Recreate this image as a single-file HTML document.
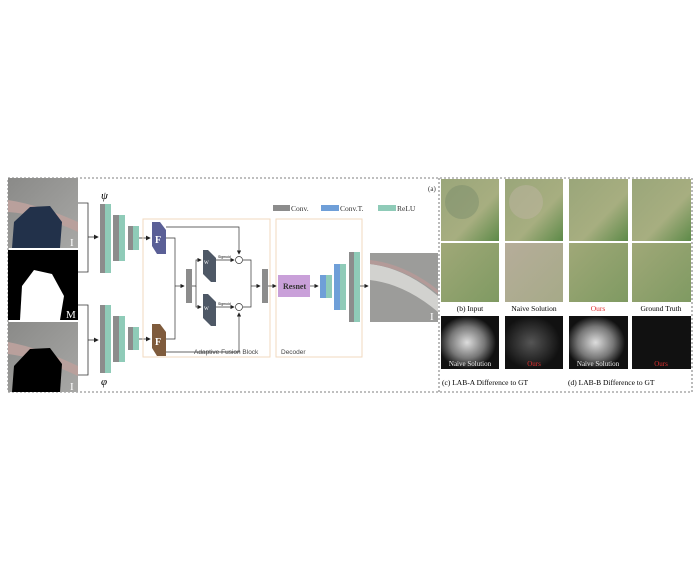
<!DOCTYPE html>
<html><head><meta charset="utf-8"><style>
body{margin:0;background:#fff;width:699px;height:566px;overflow:hidden}
svg{display:block}
text{font-family:"Liberation Serif",serif}
.s{font-family:"Liberation Sans",sans-serif}
</style></head><body>
<svg width="699" height="566" viewBox="0 0 699 566">
<defs>
<marker id="a" markerWidth="6" markerHeight="6" refX="5" refY="3" orient="auto"><path d="M0,0L6,3L0,6z" fill="#222"/></marker>
<linearGradient id="road" x1="0" y1="0" x2="1" y2="1"><stop offset="0" stop-color="#8a8a88"/><stop offset="1" stop-color="#a8a8a6"/></linearGradient>
<linearGradient id="grass" x1="0" y1="0" x2="1" y2="1"><stop offset="0" stop-color="#9aa67a"/><stop offset="0.6" stop-color="#a7ae80"/><stop offset="1" stop-color="#5d8a48"/></linearGradient>
<linearGradient id="grass2" x1="0" y1="0" x2="1" y2="1"><stop offset="0" stop-color="#a0a878"/><stop offset="1" stop-color="#7f9a62"/></linearGradient>
<linearGradient id="naive" x1="0" y1="0" x2="1" y2="1"><stop offset="0" stop-color="#b6ad9a"/><stop offset="1" stop-color="#a6aa88"/></linearGradient>
<radialGradient id="glow" cx="0.45" cy="0.5" r="0.5"><stop offset="0" stop-color="#ddd"/><stop offset="0.6" stop-color="#777"/><stop offset="1" stop-color="#111"/></radialGradient>
<radialGradient id="glow2" cx="0.45" cy="0.5" r="0.5"><stop offset="0" stop-color="#555"/><stop offset="1" stop-color="#111"/></radialGradient>
</defs>
<rect x="8" y="178" width="684" height="214" fill="none" stroke="#555" stroke-dasharray="2,2" stroke-width="0.8"/>
<line x1="439" y1="178" x2="439" y2="392" stroke="#555" stroke-dasharray="2,2" stroke-width="0.8"/>
<rect x="8" y="178" width="70" height="70" fill="url(#road)"/>
<path d="M8,200 Q40,205 78,222 L78,232 Q40,214 8,212z" fill="#b9a09c"/>
<path d="M12,248 L14,222 L30,207 L50,206 L62,222 L60,248z" fill="#22314a"/>
<text x="70" y="246" fill="#fff" font-size="11">I</text>
<rect x="8" y="250" width="70" height="70" fill="#000"/>
<path d="M20,320 L22,286 L34,270 L52,274 L64,296 L60,320z" fill="#fff"/>
<text x="66" y="318" fill="#fff" font-size="11">M</text>
<rect x="8" y="322" width="70" height="70" fill="url(#road)"/>
<path d="M8,342 Q40,348 78,366 L78,376 Q40,358 8,354z" fill="#b9a09c"/>
<path d="M12,392 L14,366 L30,349 L50,348 L62,364 L60,392z" fill="#000"/>
<text x="70" y="390" fill="#fff" font-size="11">I</text>
<g stroke="#333" stroke-width="0.8" fill="none">
<path d="M78,203 H88 V272 H78"/><path d="M88,237 H98" marker-end="url(#a)"/>
<path d="M78,305 H88 V375 H78"/><path d="M88,340 H98" marker-end="url(#a)"/>
<path d="M139,238 H150" marker-end="url(#a)"/><path d="M139,339 H150" marker-end="url(#a)"/>
</g>
<g>
<rect x="100" y="204" width="5" height="69" fill="#8c8c8c"/><rect x="105" y="204" width="6" height="69" fill="#8fcbb8"/>
<rect x="113" y="215" width="6" height="46" fill="#8c8c8c"/><rect x="119" y="215" width="6" height="46" fill="#8fcbb8"/>
<rect x="128" y="226" width="5" height="24" fill="#8c8c8c"/><rect x="133" y="226" width="6" height="24" fill="#8fcbb8"/>
<rect x="100" y="305" width="5" height="68" fill="#8c8c8c"/><rect x="105" y="305" width="6" height="68" fill="#8fcbb8"/>
<rect x="113" y="316" width="6" height="46" fill="#8c8c8c"/><rect x="119" y="316" width="6" height="46" fill="#8fcbb8"/>
<rect x="128" y="327" width="5" height="23" fill="#8c8c8c"/><rect x="133" y="327" width="6" height="23" fill="#8fcbb8"/>
</g>
<text x="101" y="199" font-size="11" font-style="italic">ψ</text>
<text x="101" y="385" font-size="11" font-style="italic">φ</text>
<rect x="143" y="219" width="127" height="138" fill="none" stroke="#f2d9bf" stroke-width="1"/>
<rect x="276" y="219" width="86" height="138" fill="none" stroke="#f2d9bf" stroke-width="1"/>
<text class="s" x="194" y="354" font-size="6.5" fill="#444">Adaptive Fusion Block</text>
<text class="s" x="281" y="354" font-size="6.5" fill="#444">Decoder</text>
<path d="M152,222 L160,222 L166,230 L166,254 L157,254 L152,246z" fill="#5a5f96"/>
<text x="155" y="243" fill="#fff" font-size="10" font-weight="bold">F</text>
<path d="M152,324 L160,324 L166,332 L166,356 L157,356 L152,348z" fill="#7f5b3c"/>
<text x="155" y="345" fill="#fff" font-size="10" font-weight="bold">F</text>
<g stroke="#333" stroke-width="0.7" fill="none">
<path d="M166,227 H239 V254" marker-end="url(#a)"/>
<path d="M166,352 H239 V313" marker-end="url(#a)"/>
<path d="M166,238 H175 V339 H166"/>
<path d="M175,286 H184" marker-end="url(#a)"/>
<path d="M192,286 H196 V260 H201" marker-end="url(#a)"/>
<path d="M196,286 V307 H201" marker-end="url(#a)"/>
<path d="M216,260 H234" marker-end="url(#a)"/>
<path d="M216,307 H234" marker-end="url(#a)"/>
<path d="M243,260 H251 V307 H243"/>
<path d="M251,286 H260" marker-end="url(#a)"/>
<path d="M267,286 H276" marker-end="url(#a)"/>
<path d="M310,286 H318" marker-end="url(#a)"/>
<path d="M360,286 H368" marker-end="url(#a)"/>
</g>
<rect x="186" y="269" width="6" height="34" fill="#8c8c8c"/>
<rect x="262" y="269" width="6" height="34" fill="#8c8c8c"/>
<path d="M203,250 L208,250 L216,258 L216,282 L211,282 L203,274z" fill="#4e5866"/>
<path d="M203,294 L208,294 L216,302 L216,326 L211,326 L203,318z" fill="#4e5866"/>
<text x="204" y="264" fill="#fff" font-size="5">W</text><text x="204" y="310" fill="#fff" font-size="5">W</text>
<text class="s" x="218" y="258" font-size="3.5">Sigmoid</text><text class="s" x="218" y="305" font-size="3.5">Sigmoid</text>
<circle cx="239" cy="260" r="3.5" fill="#fff" stroke="#333" stroke-width="0.7"/>
<circle cx="239" cy="307" r="3.5" fill="#fff" stroke="#333" stroke-width="0.7"/>
<rect x="278" y="275" width="32" height="22" fill="#c9a0d9"/>
<text x="283" y="289" font-size="8" font-weight="bold" fill="#333">Resnet</text>
<rect x="320" y="275" width="6" height="23" fill="#6f9fd8"/><rect x="326" y="275" width="6" height="23" fill="#8fcbb8"/>
<rect x="334" y="264" width="6" height="46" fill="#6f9fd8"/><rect x="340" y="264" width="6" height="46" fill="#8fcbb8"/>
<rect x="349" y="252" width="5" height="70" fill="#8c8c8c"/><rect x="354" y="252" width="6" height="70" fill="#8fcbb8"/>
<rect x="370" y="253" width="68" height="69" fill="#9c9c9a"/>
<path d="M370,264 Q405,268 438,296 L438,312 Q405,284 370,280z" fill="#d2d2cf"/>
<path d="M370,260 Q405,264 438,290 L438,294 Q405,268 370,264z" fill="#b39a98"/>
<text x="430" y="320" fill="#fff" font-size="11">I</text>
<rect x="273" y="205" width="17" height="6" fill="#8c8c8c"/><text x="291" y="211" font-size="7.5" fill="#333">Conv.</text>
<rect x="321" y="205" width="18" height="6" fill="#6f9fd8"/><text x="340" y="211" font-size="7.5" fill="#333">Conv.T.</text>
<rect x="378" y="205" width="18" height="6" fill="#8fcbb8"/><text x="397" y="211" font-size="7.5" fill="#333">ReLU</text>
<text x="428" y="191" font-size="7" fill="#333">(a)</text>
<g>
<rect x="441" y="179" width="58" height="62" fill="url(#grass)"/><circle cx="462" cy="202" r="17" fill="#74866a" opacity="0.4"/>
<rect x="505" y="179" width="58" height="62" fill="url(#grass)"/><circle cx="526" cy="202" r="17" fill="#c2b5a6" opacity="0.45"/>
<rect x="569" y="179" width="59" height="62" fill="url(#grass)"/>
<rect x="632" y="179" width="59" height="62" fill="url(#grass)"/>
<rect x="441" y="243" width="58" height="59" fill="url(#grass2)"/>
<rect x="505" y="243" width="58" height="59" fill="url(#naive)"/>
<rect x="569" y="243" width="59" height="59" fill="url(#grass2)"/>
<rect x="632" y="243" width="59" height="59" fill="url(#grass2)"/>
</g>
<g font-size="7.5" text-anchor="middle">
<text x="470" y="311">(b) Input</text>
<text x="534" y="311">Naive Solution</text>
<text x="598" y="311" fill="#e03030">Ours</text>
<text x="661" y="311">Ground Truth</text>
</g>
<rect x="441" y="316" width="58" height="53" fill="url(#glow)"/>
<rect x="505" y="316" width="58" height="53" fill="url(#glow2)"/>
<rect x="569" y="316" width="59" height="53" fill="url(#glow)"/>
<rect x="632" y="316" width="59" height="53" fill="#111"/>
<g font-size="7" text-anchor="middle">
<text x="470" y="366" fill="#eee">Naive Solution</text>
<text x="534" y="366" fill="#e03030">Ours</text>
<text x="598" y="366" fill="#eee">Naive Solution</text>
<text x="661" y="366" fill="#e03030">Ours</text>
</g>
<text x="442" y="385" font-size="7.5">(c) LAB-A Difference to GT</text>
<text x="568" y="385" font-size="7.5">(d) LAB-B Difference to GT</text>
</svg>
</body></html>
